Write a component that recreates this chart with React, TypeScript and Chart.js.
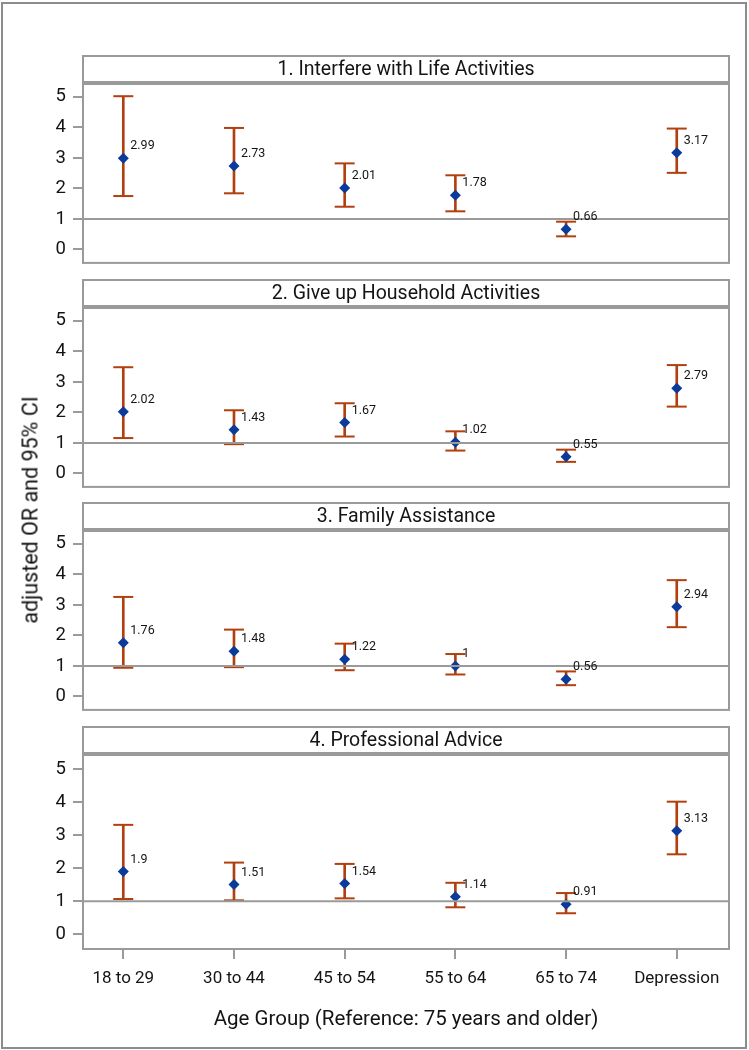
import React, { useEffect, useRef } from "react";
import { Chart, registerables } from "chart.js";

Chart.register(...registerables);

// ---------- data ----------
const categories = ["18 to 29", "30 to 44", "45 to 54", "55 to 64", "65 to 74", "Depression"];
const panelTitles = [
  "1. Interfere with Life Activities",
  "2. Give up Household Activities",
  "3. Family Assistance",
  "4. Professional Advice",
];
const yTickValues = [0, 1, 2, 3, 4, 5];
const referenceValue = 1;

const or1 = [2.99, 2.73, 2.01, 1.78, 0.66, 3.17];
const lo1 = [1.75, 1.84, 1.4, 1.25, 0.43, 2.51];
const hi1 = [5.02, 3.98, 2.82, 2.43, 0.91, 3.96];

const or2 = [2.02, 1.43, 1.67, 1.02, 0.55, 2.79];
const lo2 = [1.16, 0.96, 1.21, 0.75, 0.38, 2.19];
const hi2 = [3.48, 2.07, 2.3, 1.38, 0.78, 3.55];

const or3 = [1.76, 1.48, 1.22, 1, 0.56, 2.94];
const lo3 = [0.94, 0.96, 0.86, 0.72, 0.37, 2.27];
const hi3 = [3.26, 2.19, 1.73, 1.39, 0.82, 3.81];

const or4 = [1.9, 1.51, 1.54, 1.14, 0.91, 3.13];
const lo4 = [1.07, 1.03, 1.09, 0.82, 0.64, 2.42];
const hi4 = [3.31, 2.17, 2.13, 1.56, 1.25, 4.01];

const xTitle = "Age Group (Reference: 75 years and older)";
const yTitle = "adjusted OR and 95% CI";

const panels = [
  { title: panelTitles[0], or: or1, lo: lo1, hi: hi1 },
  { title: panelTitles[1], or: or2, lo: lo2, hi: hi2 },
  { title: panelTitles[2], or: or3, lo: lo3, hi: hi3 },
  { title: panelTitles[3], or: or4, lo: lo4, hi: hi4 },
];

// ---------- styling / layout ----------
const FONT = "Roboto, 'Noto Sans', sans-serif";
const CI_COLOR = "#b2400f";
const MARKER_COLOR = "#0a3a9a";
const FRAME_GRAY = "#9a9a9a";
const TEXT = "#141414";
const W = 749;
const HEADER_TOPS = [56, 280, 503, 727];
const HEADER_H = 26;
const PLOT_OFFSET = 28;
const PLOT_H = 194;
const AREA_LEFT = 83;
const AREA_RIGHT = 729;

const panelPlugin = {
  id: "panelDecor",
  afterDatasetsDraw(chart: any, _args: any, opts: any) {
    const { ctx, chartArea: a, scales } = chart;
    ctx.save();
    // reference line
    const yRef = scales.y.getPixelForValue(referenceValue);
    ctx.strokeStyle = FRAME_GRAY;
    ctx.lineWidth = 2;
    ctx.beginPath();
    ctx.moveTo(a.left, yRef);
    ctx.lineTo(a.right, yRef);
    ctx.stroke();
    // value labels
    const meta = chart.getDatasetMeta(0);
    ctx.fillStyle = TEXT;
    ctx.font = `12.5px ${FONT}`;
    ctx.textAlign = "left";
    ctx.textBaseline = "middle";
    meta.data.forEach((pt: any, i: number) => {
      ctx.fillText(String(opts.values[i]), pt.x + 7, pt.y - 12);
    });
    // plot frame
    ctx.strokeStyle = FRAME_GRAY;
    ctx.lineWidth = 2;
    ctx.strokeRect(a.left, a.top, a.right - a.left, a.bottom - a.top);
    // header box
    const hTop = a.top - PLOT_OFFSET;
    ctx.strokeRect(a.left, hTop, a.right - a.left, HEADER_H);
    ctx.font = `19.5px ${FONT}`;
    ctx.textAlign = "center";
    ctx.fillText(opts.title, (a.left + a.right) / 2, hTop + HEADER_H / 2 + 1);
    ctx.restore();
  },
};

function Panel({ index }: { index: number }) {
  const ref = useRef<HTMLCanvasElement | null>(null);
  const p = panels[index];
  const isLast = index === panels.length - 1;
  const top = HEADER_TOPS[index] - 2;
  const height = isLast ? 1050 - top : 2 + PLOT_OFFSET + PLOT_H + 3;

  useEffect(() => {
    if (!ref.current) return;
    const chart = new Chart(ref.current, {
      type: "scatter",
      data: {
        datasets: [
          {
            type: "scatter",
            data: p.or.map((v, i) => ({ x: i, y: v })),
            pointStyle: "rectRot",
            pointRadius: 5.5,
            pointHoverRadius: 5.5,
            backgroundColor: MARKER_COLOR,
            borderColor: MARKER_COLOR,
            borderWidth: 0,
            order: 0,
          },
          {
            type: "scatter",
            data: p.hi.map((v, i) => ({ x: i, y: v })),
            pointStyle: "line",
            pointRadius: 10,
            pointHoverRadius: 10,
            borderColor: CI_COLOR,
            borderWidth: 2,
            order: 1,
          },
          {
            type: "scatter",
            data: p.lo.map((v, i) => ({ x: i, y: v })),
            pointStyle: "line",
            pointRadius: 10,
            pointHoverRadius: 10,
            borderColor: CI_COLOR,
            borderWidth: 2,
            order: 1,
          },
          {
            type: "bar",
            data: p.lo.map((v, i) => ({ x: i, y: [v, p.hi[i]] })),
            backgroundColor: CI_COLOR,
            barThickness: 2,
            order: 2,
          } as any,
        ],
      },
      options: {
        responsive: false,
        animation: false,
        events: [],
        layout: {
          padding: { top: 2 + PLOT_OFFSET, left: 0, right: W - AREA_RIGHT, bottom: isLast ? 0 : 3 },
        },
        plugins: {
          legend: { display: false },
          tooltip: { enabled: false },
          panelDecor: { title: p.title, values: p.or },
        } as any,
        scales: {
          x: {
            type: "linear",
            display: isLast,
            offset: false,
            min: -0.364,
            max: 5.472,
            afterBuildTicks: (s: any) => {
              s.ticks = categories.map((_, i) => ({ value: i }));
            },
            afterFit: (s: any) => {
              if (isLast) s.height = 1050 - (HEADER_TOPS[index] + PLOT_OFFSET + PLOT_H);
            },
            ticks: {
              autoSkip: false,
              maxRotation: 0,
              padding: 10,
              color: TEXT,
              font: { family: FONT, size: 17 },
              callback: (v: any) => categories[Math.round(Number(v))],
            },
            grid: {
              offset: false,
              drawOnChartArea: false,
              drawTicks: true,
              tickLength: 10,
              color: FRAME_GRAY,
              lineWidth: 2,
            },
            border: { display: false },
            title: {
              display: true,
              text: xTitle,
              color: TEXT,
              font: { family: FONT, size: 20.5 },
              padding: { top: 0, bottom: 18 },
            },
          },
          y: {
            type: "linear",
            min: -0.44,
            max: 5.42,
            afterBuildTicks: (s: any) => {
              s.ticks = yTickValues.map((v) => ({ value: v }));
            },
            afterFit: (s: any) => {
              s.width = AREA_LEFT;
            },
            ticks: {
              padding: 7,
              color: TEXT,
              font: { family: FONT, size: 18.5 },
            },
            grid: {
              drawOnChartArea: false,
              drawTicks: true,
              tickLength: 10,
              color: FRAME_GRAY,
              lineWidth: 2,
            },
            border: { display: false },
          },
        },
      } as any,
      plugins: [panelPlugin],
    });
    return () => chart.destroy();
  }, []);

  return (
    <canvas
      ref={ref}
      width={W}
      height={height}
      style={{ position: "absolute", left: 0, top, width: W, height }}
    />
  );
}

export default function App() {
  return (
    <div style={{ position: "absolute", left: 0, top: 0, width: W, height: 1050, background: "#fff" }}>
      <div
        style={{
          position: "absolute",
          left: 1,
          top: 2,
          width: 746,
          height: 1047,
          boxSizing: "border-box",
          border: "2px solid #8c8c8c",
        }}
      />
      {panels.map((_, i) => (
        <Panel key={i} index={i} />
      ))}
      <div
        style={{
          position: "absolute",
          left: 30,
          top: 510,
          transform: "translate(-50%, -50%) rotate(-90deg)",
          whiteSpace: "nowrap",
          fontFamily: FONT,
          fontSize: 21.5,
          color: TEXT,
        }}
      >
        {yTitle}
      </div>
    </div>
  );
}
